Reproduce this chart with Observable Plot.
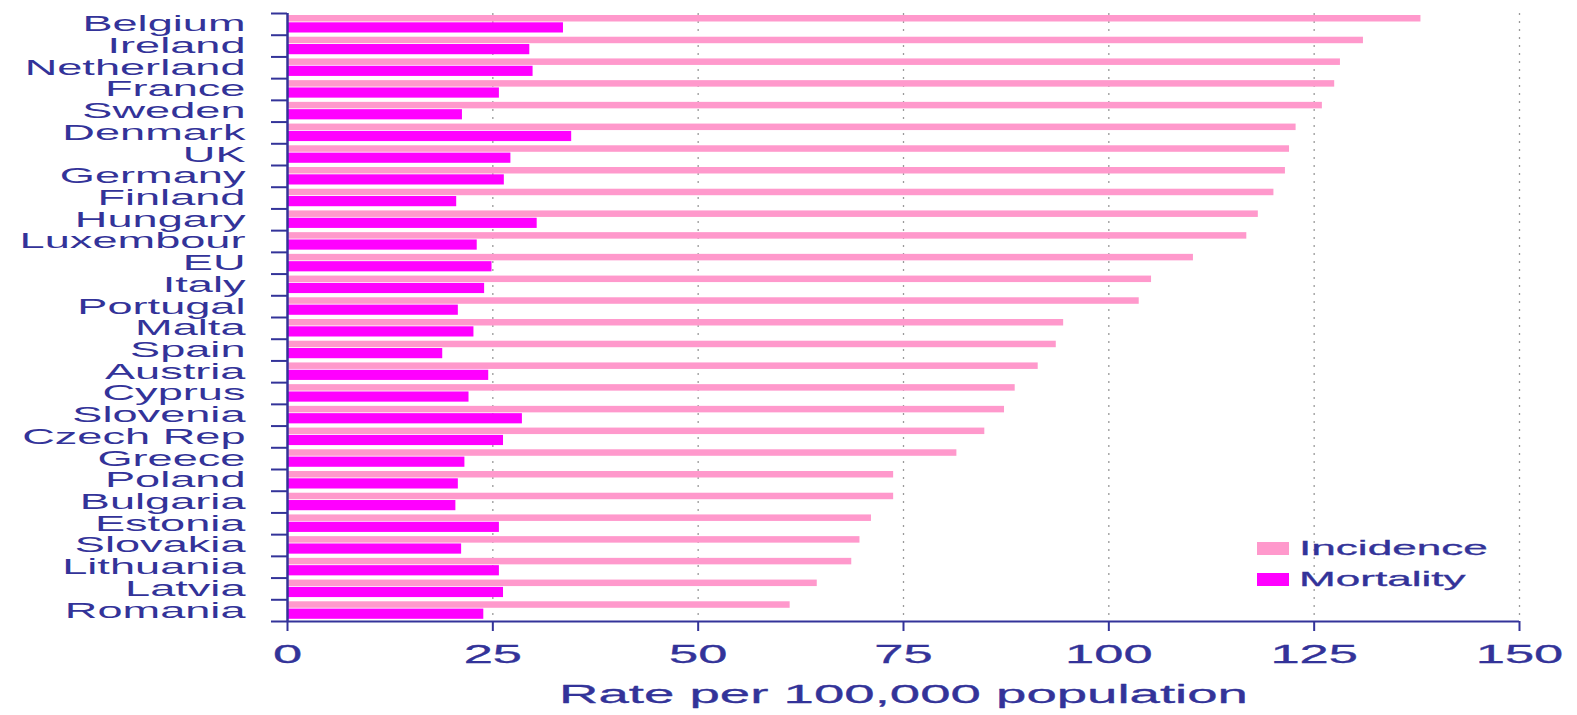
<!DOCTYPE html>
<html><head><meta charset="utf-8">
<script src="https://cdn.jsdelivr.net/npm/d3@7"></script>
<script src="https://cdn.jsdelivr.net/npm/@observablehq/plot@0.6"></script>
<style>
body{margin:0;background:#fff;}
#wrap{position:relative;width:1577px;height:715px;overflow:hidden;}
#wrap svg{position:absolute;left:0;top:0;}
.sw{position:absolute;width:32px;height:13px;}
.lt{position:absolute;font-family:"Liberation Sans",Arial,sans-serif;font-size:21px;color:#333399;transform:scaleX(2.1);transform-origin:0 50%;white-space:nowrap;line-height:1;-webkit-text-stroke:0.3px #333399;}
</style></head><body><div id="wrap"></div>
<script>
const countries = ["Belgium","Ireland","Netherland","France","Sweden","Denmark","UK","Germany","Finland","Hungary","Luxembour","EU","Italy","Portugal","Malta","Spain","Austria","Cyprus","Slovenia","Czech Rep","Greece","Poland","Bulgaria","Estonia","Slovakia","Lithuania","Latvia","Romania"];
const incidence = [138.0,131.0,128.2,127.5,126.0,122.8,122.0,121.5,120.1,118.2,116.8,110.3,105.2,103.7,94.5,93.6,91.4,88.6,87.3,84.9,81.5,73.8,73.8,71.1,69.7,68.7,64.5,61.2];
const mortality = [33.6,29.5,29.9,25.8,21.3,34.6,27.2,26.4,20.6,30.4,23.1,24.9,24.0,20.8,22.7,18.9,24.5,22.1,28.6,26.3,21.6,20.8,20.5,25.8,21.2,25.8,26.3,23.9];
const xTicks = [0,25,50,75,100,125,150];
const seriesNames = ["Incidence","Mortality"];
const seriesColors = ["#ff99cc","#ff00ff"];
const navy = "#333399";

const data = countries.map((c,i)=>({country:c, incidence:incidence[i], mortality:mortality[i]}));
const plotTop = 13, plotBottom = 621;
const bw = (plotBottom - plotTop) / countries.length;

const plot = Plot.plot({
  width: 1577, height: 715,
  marginLeft: 287, marginRight: 58, marginTop: plotTop, marginBottom: 715 - plotBottom,
  style: {fontFamily: "'Liberation Sans', Arial, sans-serif", background: "white", color: navy},
  x: {domain: [0,150], ticks: xTicks, label: null},
  y: {domain: countries, padding: 0, round: false, label: null},
  marks: [
    Plot.gridX(xTicks.slice(1), {stroke: "#9a9a9a", strokeOpacity: 1, strokeDasharray: "2,6", strokeWidth: 1.3}),
    Plot.barX(data, {y: "country", x: "incidence", fill: seriesColors[0], insetTop: 2, insetBottom: bw - 8.5}),
    Plot.barX(data, {y: "country", x: "mortality", fill: seriesColors[1], insetTop: 9.3, insetBottom: bw - 19.5}),
    Plot.ruleY(countries, {y: d => d, dy: -bw/2, x1: -1.95, x2: 0, stroke: navy, strokeWidth: 2}),
    Plot.ruleY([countries[countries.length-1]], {y: d => d, dy: bw/2, x1: -1.95, x2: 150, stroke: navy, strokeWidth: 2}),
    Plot.ruleX([0], {stroke: navy, strokeWidth: 2.5}),
    Plot.axisY({tickSize: 0, tickPadding: 42, fontSize: 21.5, label: null, stroke: navy, strokeWidth: 0.3}),
    Plot.axisX(xTicks, {tickSize: 10, tickPadding: 14, fontSize: 25, stroke: navy, strokeWidth: 2, label: null}),
    Plot.text(["Rate per 100,000 population"], {frameAnchor: "bottom", dy: 73, fontSize: 26, fill: navy, stroke: navy, strokeWidth: 0.3, lineAnchor: "middle"})
  ]
});

d3.select(plot).selectAll("text").each(function() {
  const t = this.getAttribute("transform");
  if (t) this.setAttribute("transform", t + " scale(2.1,1)");
  else {
    const x = +(this.getAttribute("x") || 0), y = +(this.getAttribute("y") || 0);
    this.setAttribute("x", 0); this.setAttribute("y", 0);
    this.setAttribute("transform", `translate(${x},${y}) scale(2.1,1)`);
  }
});
// x tick labels: thin outline for weight like the reference
d3.select(plot).selectAll("[aria-label='x-axis tick label'] text").attr("stroke", navy).attr("stroke-width", 0.3);

const wrap = document.getElementById("wrap");
wrap.appendChild(plot);

// legend
const legY = [548, 579];
seriesNames.forEach((name, i) => {
  const sw = document.createElement("div");
  sw.className = "sw";
  sw.style.left = "1257px";
  sw.style.top = (legY[i] - 6.5) + "px";
  sw.style.background = seriesColors[i];
  wrap.appendChild(sw);
  const lt = document.createElement("div");
  lt.className = "lt";
  lt.textContent = name;
  lt.style.left = "1299px";
  lt.style.top = (legY[i] - 11) + "px";
  wrap.appendChild(lt);
});
</script></body></html>
